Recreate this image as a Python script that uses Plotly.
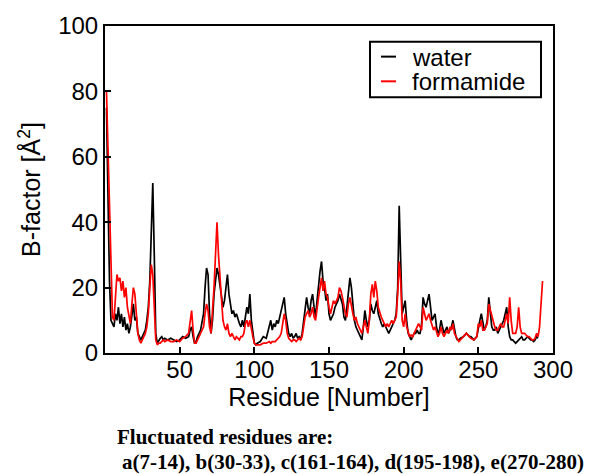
import plotly.graph_objects as go

# Residue numbers and B-factors
residue = [1,2,3,4,5,6,7,8,9,10,11,12,13,14,15,16,17,18,19,20,
           21,22,23,24,25,26,27,28,29,30,31,32,33,34,35,36,37,38,39,40,
           42,44,46,48,50,52,54,56,57,58,59,60,61,62,64,66,67,68,69,70,
           71,72,73,74,75,76,77,78,79,80,81,82,83,84,85,86,87,88,89,90,
           91,92,93,94,95,96,97,98,99,100,101,102,104,106,108,110,111,112,113,114,
           115,116,117,118,119,120,121,122,123,124,125,126,127,128,129,130,131,132,133,134,
           135,136,137,138,139,140,141,142,143,144,145,146,147,148,149,150,151,152,153,154,
           155,156,157,158,159,160,161,162,163,164,165,166,167,168,169,170,171,172,173,174,
           175,176,177,178,179,180,181,182,183,184,185,186,187,188,189,190,191,192,193,194,
           195,196,197,198,199,200,201,202,203,204,205,206,207,208,209,210,211,212,213,214,
           215,216,217,218,219,220,221,222,223,224,225,226,227,228,229,230,231,232,233,234,
           235,236,237,238,240,242,244,245,247,249,250,251,252,253,254,255,256,257,258,259,
           260,261,262,263,264,265,266,267,268,269,270,271,272,273,274,275,276,277,278,279,
           280,281,282,283,284,285,286,287,288,289,290,291,292,293]

water = [75,48,22,10,9,8,12,10,14,9,12,8,11,7,9,6,8,12,15,10,
         11,6,5,4,5,6,7,10,14,22,40,52,30,6,3,4,4.5,5,4,4.5,
         4,4.5,4,3.5,4,5,4.5,5,7,8,5,3,3.5,5,7,12,20,26,24,12,
         6,10,18,22,26,24,20,18,14,16,20,24,18,14,12,13,11,12,10,9,
         8,10,8,11,14,12,18,10,6,3,2.5,3,3.5,5,4.5,8,10,7,9,8,
         10,9,11,12,14,17,12,8,6,5,6,4.5,5,6,4.5,5,4,6,10,14,
         17,14,12,16,18,14,11,16,22,25,28,22,20,16,18,12,10,11,12,14,
         15,16,18,16,15,11,10,14,18,23,20,14,10,8,7,6,5,4,8,13,
         10,8,10,15,13,12,14,16,12,10,9,8,9,8,7,6,7,8,9,10,
         12,20,45,30,12,14,16,10,6,5,4,5,6,6,7,6,6,9,17,15,
         14,16,18,14,10,11,12,8,6,7,10,8,6,7,8,6,7,8,10,7,
         5,4,4,4.5,5,6,5,5,4,5,8,10,12,9,7,8,10,17,12,8,
         7,7,8,6,7,8,9,10,12,14,8,5,4,4,3.5,3,3.5,4,4.5,5,
         4,4,4.5,5,4.5,4,4,3.5,4,5,4.5,None,None,None]

formamide = [80,62,40,20,11,10,18,24,22,23,19,22,17,20,14,11,9,15,20,18,
             12,6,4,3,4,5,6,8,12,20,27,24,14,4,2.5,3,3,3.5,4,3.5,
             4,3.5,3.5,4,3.5,4.5,5,6,10,13,7,3,3,4,6,8,12,15,13,8,
             6,12,20,30,40,30,22,16,10,8,7,9,6,5,6,5,4,5,4.5,4,
             5,5,6,9,10,8,10,7,5,3,2.5,2.5,2.5,3,3,3.5,3,3.5,3.5,3.5,
             4,4.5,5,6,9,12,10,6,4.5,4,3.5,4,4,3.5,4,4.5,4,5,8,11,
             12,13,11,12,14,11,10,14,17,20,23,19,22,18,17,14,12,14,16,15,
             16,17,20,19,17,14,12,11,15,17,14,12,10,11,9,8,7,6,8,10,
             8,6,10,18,21,17,22,19,14,12,11,10,9,8,9,8,9,10,9,10,
             11,18,28,22,10,8,12,8,6,5,5.5,5,6,7,8,9,8,7,14,12,
             10,11,12,10,8,7,8,6,5,6,8,6,5,6,7,6,8,7,9,6,
             5,4,3.5,4,5,6,5,4.5,4,5,9,8,10,7,7,8,9,15,13,12,
             9,8,7,7,8,9,8,8,10,12,9,17,10,6,6,6,8,14,8,6,
             6,6,5.5,5,5,4.5,4,4,4.5,6,5,8,15,22]

series_names = ["water", "formamide"]
series_colors = ["#000000", "#ff0000"]

x_ticks = [50, 100, 150, 200, 250, 300]
y_ticks = [0, 20, 40, 60, 80, 100]

footnote_line1 = "Fluctuated residues are:"
footnote_line2 = "a(7-14), b(30-33), c(161-164), d(195-198), e(270-280)"

W, H = 594, 474
L, R, T, B = 105, 553, 22, 353  # plot area in pixels


def px_to_paper_x(px):
    return (px - L) / (R - L)


def px_to_paper_y(py):
    return (B - py) / (B - T)


fig = go.Figure()
for name, ys, col in zip(series_names, [water, formamide], series_colors):
    fig.add_trace(go.Scatter(x=residue, y=ys, mode="lines", name=name,
                             line=dict(color=col, width=1.7), connectgaps=False,
                             showlegend=False))

axis_font = dict(family="Liberation Sans, Arial, sans-serif", size=24, color="black")

fig.update_layout(
    width=W, height=H,
    margin=dict(l=L, r=W - R, t=T, b=H - B, pad=0),
    paper_bgcolor="white", plot_bgcolor="white",
    font=axis_font,
    showlegend=False,
    xaxis=dict(range=[0, 300], tickvals=x_ticks, ticks="inside", ticklen=6, tickwidth=2,
               tickcolor="black", showline=True, linecolor="black", linewidth=2, mirror=True,
               showgrid=False, zeroline=False, tickfont=axis_font, ticklabelstandoff=-6,
               title=dict(text="Residue [Number]", font=dict(axis_font, size=25), standoff=0)),
    yaxis=dict(range=[0, 100], tickvals=y_ticks, ticks="inside", ticklen=6, tickwidth=2,
               tickcolor="black", showline=True, linecolor="black", linewidth=2, mirror=True,
               showgrid=False, zeroline=False, tickfont=axis_font,
               title=dict(text="B-factor [Å<sup>2</sup>]", font=dict(axis_font, size=25), standoff=10)),
)

# Hand-drawn legend box matching the reference's compact layout
legend_font = dict(family="Liberation Sans, Arial, sans-serif", size=24, color="black")
fig.add_shape(type="rect", xref="paper", yref="paper",
              x0=px_to_paper_x(370), x1=px_to_paper_x(541),
              y0=px_to_paper_y(94), y1=px_to_paper_y(38),
              line=dict(color="black", width=2), fillcolor="white", layer="above")
for i, (name, col) in enumerate(zip(series_names, series_colors)):
    yc = 53 + 25 * i
    fig.add_shape(type="line", xref="paper", yref="paper",
                  x0=px_to_paper_x(381), x1=px_to_paper_x(396),
                  y0=px_to_paper_y(yc), y1=px_to_paper_y(yc),
                  line=dict(color=col, width=2), layer="above")
    fig.add_annotation(text=name, xref="paper", yref="paper",
                       x=px_to_paper_x(411), y=px_to_paper_y(yc), xanchor="left", yanchor="middle",
                       showarrow=False, font=legend_font, borderpad=0, height=24, valign="middle")

note_font = dict(family="Liberation Serif, Times New Roman, serif", size=21, color="black")
fig.add_annotation(text="<b>" + footnote_line1 + "</b>", xref="paper", yref="paper",
                   x=px_to_paper_x(116), y=px_to_paper_y(438), xanchor="left", yanchor="middle",
                   showarrow=False, font=note_font, borderpad=0)
fig.add_annotation(text="<b>" + footnote_line2 + "</b>", xref="paper", yref="paper",
                   x=px_to_paper_x(121), y=px_to_paper_y(463), xanchor="left", yanchor="middle",
                   showarrow=False, font=note_font, borderpad=0)

fig.write_html("out.html")
